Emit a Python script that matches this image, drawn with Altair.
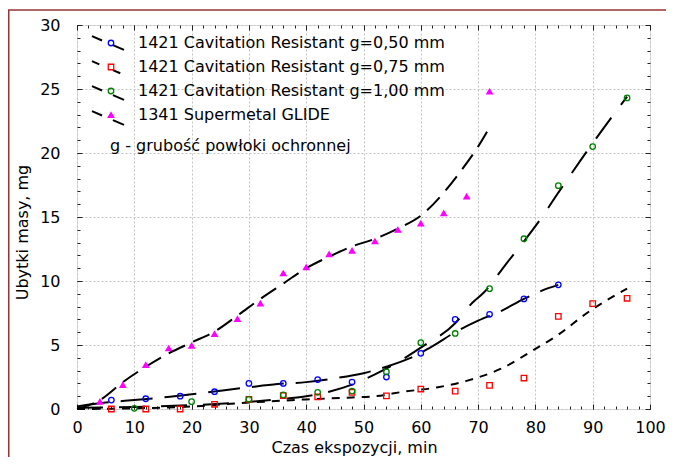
import altair as alt
import pandas as pd

series_labels = [
    "1421 Cavitation Resistant g=0,50 mm",
    "1421 Cavitation Resistant g=0,75 mm",
    "1421 Cavitation Resistant g=1,00 mm",
    "1341 Supermetal GLIDE",
]
fit_keys = ["fit g=0,50", "fit g=0,75", "fit g=1,00", "fit GLIDE"]

# measured points (time in min, mass loss in mg)
t_050 = [6, 12, 18, 24, 30, 36, 42, 48, 54, 60, 66, 72, 78, 84]
m_050 = [0.7, 0.8, 1.0, 1.35, 2.0, 2.0, 2.3, 2.1, 2.5, 4.35, 7.0, 7.4, 8.6, 9.7]
t_075 = [6, 12, 18, 24, 30, 36, 42, 48, 54, 60, 66, 72, 78, 84, 90, 96]
m_075 = [0.0, 0.0, 0.0, 0.37, 0.76, 1.04, 0.94, 1.3, 1.02, 1.56, 1.4, 1.84, 2.42, 7.24, 8.23, 8.65]
t_100 = [10, 20, 30, 36, 42, 48, 54, 60, 66, 72, 78, 84, 90, 96]
m_100 = [0.05, 0.57, 0.76, 1.1, 1.3, 1.4, 2.9, 5.18, 5.9, 9.4, 13.3, 17.45, 20.5, 24.3]
t_gl = [4, 8, 12, 16, 20, 24, 28, 32, 36, 40, 44, 48, 52, 56, 60, 64, 68, 72]
m_gl = [0.57, 1.88, 3.44, 4.74, 4.95, 5.86, 7.03, 8.25, 10.6, 11.07, 12.1, 12.37, 13.1, 14.0, 14.5, 15.3, 16.6, 24.8]

# fitted curves
ft_050 = [0, 5, 10, 15, 20, 25, 30, 35, 40, 45, 50, 54, 58, 62, 66, 70, 74, 78, 82, 84]
fm_050 = [0.2, 0.5, 0.7, 0.9, 1.15, 1.43, 1.7, 1.95, 2.1, 2.4, 2.8, 3.3, 3.95, 4.9, 6.0, 6.9, 7.65, 8.6, 9.4, 9.7]
ft_075 = [0, 10, 20, 30, 40, 48, 52, 57, 63, 68, 74, 80, 84, 89, 94, 96]
fm_075 = [0.0, 0.05, 0.2, 0.5, 0.75, 0.9, 1.0, 1.35, 1.7, 2.2, 3.15, 4.7, 5.8, 7.5, 8.9, 9.4]
ft_100 = [0, 10, 20, 30, 36, 40, 44, 48, 52, 55, 60, 66, 69, 71, 75, 78, 81, 84, 88, 92, 96]
fm_100 = [0.1, 0.15, 0.3, 0.55, 0.8, 1.0, 1.35, 1.9, 2.7, 3.4, 4.8, 6.7, 8.3, 9.1, 11.4, 13.1, 14.9, 16.9, 19.5, 22.0, 24.4]
ft_gl = [0, 4, 8, 12, 16, 20, 24, 28, 32, 36, 40, 44, 48, 52, 56, 60, 64, 67, 70, 72]
fm_gl = [0.0, 0.7, 2.1, 3.3, 4.35, 5.2, 6.05, 7.3, 8.6, 9.8, 11.0, 11.9, 12.7, 13.3, 14.1, 15.1, 16.9, 18.6, 20.5, 22.0]

x_major = list(range(0, 101, 10))
x_minor = list(range(0, 101, 2))
y_major = list(range(0, 31, 5))
y_minor = list(range(0, 31, 1))
annotation = "g - grubość powłoki ochronnej"

# styles
dash_patterns = [[32, 12], [8, 7], [26, 16], [18, 9]]
marker_shapes = ["circle", "square", "circle", "triangle-up"]
marker_colors = ["#0000ff", "#ff0000", "#008000", "#ff00ff"]
marker_fills = ["transparent", "transparent", "transparent", "#ff00ff"]
marker_sizes = [30, 30, 14, 34]

obs_rows = []
for lab, ts, ms in zip(series_labels, [t_050, t_075, t_100, t_gl], [m_050, m_075, m_100, m_gl]):
    for t, m in zip(ts, ms):
        obs_rows.append({"series": lab, "t": t, "m": m})
obs = pd.DataFrame(obs_rows)

fit_rows = []
for key, ts, ms in zip(fit_keys, [ft_050, ft_075, ft_100, ft_gl], [fm_050, fm_075, fm_100, fm_gl]):
    for i, (t, m) in enumerate(zip(ts, ms)):
        fit_rows.append({"fit": key, "t": t, "m": m, "i": i})
fits = pd.DataFrame(fit_rows)

FONT = "DejaVu Sans"
FS = 16
W, H = 573, 384

xs = alt.Scale(domain=[0, 100], nice=False, zero=False)
ys = alt.Scale(domain=[0, 30], nice=False, zero=False)


def tick_axis(orient, values, size):
    return alt.Axis(orient=orient, values=values, domain=False, ticks=True, tickSize=size,
                    tickColor="#222222", tickWidth=1, offset=-size, labels=False, grid=False, title="")


x_bottom = alt.Axis(orient="bottom", values=x_major, domain=False, ticks=True, tickSize=5,
                    tickColor="#222222", offset=-5, grid=True, gridColor="#c4c4c4", gridDash=[2, 2],
                    labelFont=FONT, labelFontSize=FS, labelColor="black", labelPadding=10,
                    labelFlush=False, labelOverlap=False,
                    title="Czas ekspozycji, min", titleFont=FONT, titleFontSize=FS,
                    titleFontWeight="normal", titleColor="black", titleX=277, titleY=43,
                    titleBaseline="middle")
y_left = alt.Axis(orient="left", values=y_major, domain=False, ticks=True, tickSize=5,
                  tickColor="#222222", offset=-5, grid=True, gridColor="#c4c4c4", gridDash=[2, 2],
                  labelFont=FONT, labelFontSize=FS, labelColor="black", labelPadding=17,
                  labelFlush=False, labelOverlap=False,
                  title="Ubytki masy, mg", titleFont=FONT, titleFontSize=FS,
                  titleFontWeight="normal", titleColor="black", titleX=-60, titleY=207,
                  titleBaseline="middle")

line_symbol = "M-2.29,-0.98L-0.85,-0.36M0.7,0.3L2.29,0.98"

lines = alt.Chart(fits).mark_line(color="black", strokeWidth=2, interpolate="monotone").encode(
    x=alt.X("t:Q", scale=xs, axis=x_bottom),
    y=alt.Y("m:Q", scale=ys, axis=y_left),
    order="i:Q",
    strokeDash=alt.StrokeDash(
        "fit:N",
        scale=alt.Scale(domain=fit_keys, range=dash_patterns),
        legend=alt.Legend(orient="none", legendX=23, legendY=10, direction="vertical", title=None,
                          symbolType=line_symbol, symbolSize=196, symbolStrokeColor="black",
                          symbolStrokeWidth=2, labelOpacity=0, labelFont=FONT, labelFontSize=FS,
                          rowPadding=3, padding=0),
    ),
)

points = alt.Chart(obs).mark_point(strokeWidth=1.3, opacity=1).encode(
    x=alt.X("t:Q", scale=xs, axis=tick_axis("top", x_major, 5)),
    y=alt.Y("m:Q", scale=ys, axis=tick_axis("right", y_major, 5)),
    stroke=alt.Stroke(
        "series:N",
        scale=alt.Scale(domain=series_labels, range=marker_colors),
        legend=alt.Legend(orient="none", legendX=26, legendY=10, direction="vertical", title=None,
                          labelFont=FONT, labelFontSize=FS, labelColor="black", labelOffset=19,
                          labelLimit=0, symbolStrokeWidth=1.3, rowPadding=8, padding=0),
    ),
    fill=alt.Fill("series:N", scale=alt.Scale(domain=series_labels, range=marker_fills)),
    shape=alt.Shape("series:N", scale=alt.Scale(domain=series_labels, range=marker_shapes)),
    size=alt.Size("series:N", scale=alt.Scale(domain=series_labels, range=marker_sizes)),
)

minor_a = alt.Chart(obs).mark_point(opacity=0).encode(
    x=alt.X("t:Q", scale=xs, axis=tick_axis("bottom", x_minor, 3)),
    y=alt.Y("m:Q", scale=ys, axis=tick_axis("left", y_minor, 3)),
)
minor_b = alt.Chart(obs).mark_point(opacity=0).encode(
    x=alt.X("t:Q", scale=xs, axis=tick_axis("top", x_minor, 3)),
    y=alt.Y("m:Q", scale=ys, axis=tick_axis("right", y_minor, 3)),
)

note = alt.Chart(pd.DataFrame({"txt": [annotation]})).mark_text(
    font=FONT, fontSize=FS, align="left", baseline="middle", color="black"
).encode(x=alt.value(33), y=alt.value(121), text="txt:N")

# outer frame of the figure (only top and left edges fall inside the picture)
frame_df = pd.DataFrame({"k": [0]})
frame = alt.Chart(frame_df).mark_rect(fill="transparent", stroke="#9a3434", strokeWidth=1.5).encode(
    x=alt.value(-68.25), x2=alt.value(W + 60), y=alt.value(-15), y2=alt.value(H + 80)
)

chart = alt.layer(lines, points, minor_a, minor_b, note, frame).resolve_axis(
    x="independent", y="independent"
).properties(
    width=W, height=H,
    padding={"left": 69, "top": 17, "right": 16, "bottom": 48},
    autosize=alt.AutoSizeParams(type="none"),
).configure_view(stroke="#222222", strokeWidth=1).configure(background="white")

chart.save("out.html", embed_options={"renderer": "svg", "actions": False})
